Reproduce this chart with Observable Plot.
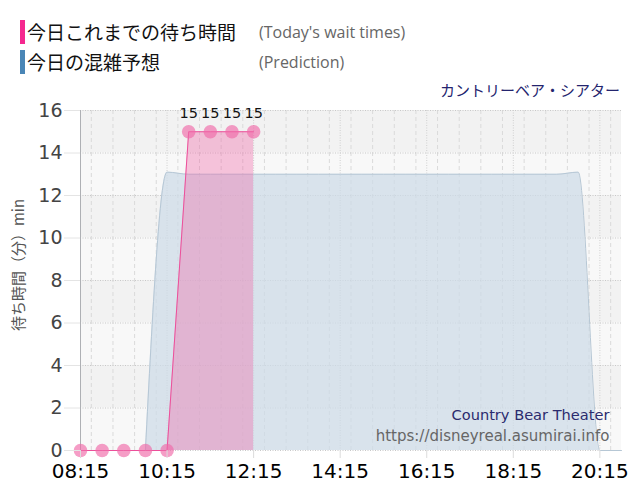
<!DOCTYPE html>
<html><head><meta charset="utf-8">
<script src="https://cdn.jsdelivr.net/npm/d3@7"></script>
<script src="https://cdn.jsdelivr.net/npm/@observablehq/plot@0.6"></script>
<style>
body{margin:0;background:#fff;}
#wrap{position:relative;width:640px;height:500px;overflow:hidden;}
#legend{position:relative;height:100px;width:640px;}
.bar{position:absolute;width:5px;height:24px;}
.jp{position:absolute;font-family:"Noto Sans CJK JP",sans-serif;font-size:19px;color:#111;line-height:24px;white-space:nowrap;}
.en{position:absolute;font-family:"Open Sans",sans-serif;font-size:16px;color:#666;line-height:24px;white-space:nowrap;}
#attr{position:absolute;right:20px;top:80px;font-family:"Noto Sans CJK JP",sans-serif;font-size:15px;color:#24246e;line-height:20px;white-space:nowrap;}
#ylab{position:absolute;left:18px;top:265px;width:0;height:0;}
#ylab span{position:absolute;left:0;top:0;transform:translate(-50%,-50%) rotate(-90deg);font-family:"Noto Sans CJK JP",sans-serif;font-size:15px;color:#555;white-space:nowrap;line-height:18px;}
#chart svg{display:block;}
</style></head><body>
<div id="wrap">
  <div id="legend">
    <div class="bar" style="left:20px;top:20px;background:#f5288f"></div>
    <div class="jp" style="left:27px;top:20px">今日これまでの待ち時間</div>
    <div class="en" style="left:259px;top:20px">(Today's wait times)</div>
    <div class="bar" style="left:20px;top:50px;background:#4a86b6"></div>
    <div class="jp" style="left:27px;top:50px">今日の混雑予想</div>
    <div class="en" style="left:259px;top:50px">(Prediction)</div>
    <div id="attr">カントリーベア・シアター</div>
  </div>
  <div id="chart"></div>
  <div id="ylab"><span id="ylabtext"></span></div>
</div>
<script>
const waitTimes = ["08:15","08:45","09:15","09:45","10:15","10:45","11:15","11:45","12:15"];
const waitValues = [0,0,0,0,0,15,15,15,15];
const predTimes = ["09:45","10:15","10:45","11:15","11:45","12:15","12:45","13:15","13:45","14:15","14:45","15:15","15:45","16:15","16:45","17:15","17:45","18:15","18:45","19:15","19:45","20:15","20:45"];
const predValues = [0,13.1,13,13,13,13,13,13,13,13,13,13,13,13,13,13,13,13,13,13,13.1,0,0];
const xTickLabels = ["08:15","10:15","12:15","14:15","16:15","18:15","20:15"];
const xDomainLabels = ["08:15","20:45"];
const yTicks = [0,2,4,6,8,10,12,14,16];
const yLabel = "待ち時間（分）min";
const nameEn = "Country Bear Theater";
const siteUrl = "https://disneyreal.asumirai.info";

document.getElementById("ylabtext").textContent = yLabel;

const t = s => { const [h,m] = s.split(":").map(Number); return new Date(Date.UTC(2024,0,1,h,m)); };
const wait = waitTimes.map((s,i) => ({t: t(s), v: waitValues[i]}));
const pred = predTimes.map((s,i) => ({t: t(s), v: predValues[i]}));
const x0 = t(xDomainLabels[0]), x1 = t(xDomainLabels[1]);
const minorTimes = d3.utcMinute.every(30).range(x0, new Date(+x1 + 1));
const majorTimes = xTickLabels.map(t);
const bands = d3.range(0, yTicks.length - 1).map(i => ({lo: yTicks[i], hi: yTicks[i+1], dark: i % 2 === 1}));

const chart = Plot.plot({
  width: 640, height: 400,
  marginTop: 10, marginBottom: 50, marginLeft: 80, marginRight: 19,
  x: {type: "utc", domain: [x0, x1]},
  y: {domain: [0, 16]},
  style: {fontFamily: "DejaVu Sans", background: "transparent", overflow: "visible"},
  marks: [
    Plot.rect(bands.filter(d => d.dark), {x1: () => x0, x2: () => x1, y1: "lo", y2: "hi", fill: "#f2f2f2"}),
    Plot.rect(bands.filter(d => !d.dark), {x1: () => x0, x2: () => x1, y1: "lo", y2: "hi", fill: "#f8f8f8"}),
    Plot.ruleX(minorTimes, {stroke: "#dadada", strokeDasharray: "4,3"}),
    Plot.ruleX(majorTimes, {stroke: "#cfcfcf", strokeDasharray: "1,1.5"}),
    Plot.ruleY(yTicks, {x1: x0, x2: x1, stroke: "#c8c8c8", strokeDasharray: "1,1.5"}),
    Plot.ruleX([x0], {stroke: "#aeb0b4"}),
    Plot.areaY(pred, {x: "t", y: "v", fill: "#cddbe8", fillOpacity: 0.72, curve: "monotone-x"}),
    Plot.lineY(pred, {x: "t", y: "v", stroke: "#b6c7d5", strokeWidth: 1, curve: "monotone-x"}),
    Plot.areaY(wait, {x: "t", y: "v", fill: "#f06aa9", fillOpacity: 0.38}),
    Plot.lineY(wait, {x: "t", y: "v", stroke: "#ec4f9a", strokeWidth: 1}),
    Plot.dot(wait, {x: "t", y: "v", r: 6.8, fill: "#f06aa9", fillOpacity: 0.66, stroke: "none"}),
    Plot.text(wait, {filter: d => d.v > 0, x: "t", y: "v", text: d => String(d.v), dy: -18, fontSize: 14.5, fill: "#111"}),
    Plot.axisY(yTicks, {tickSize: 16, tickPadding: 2, stroke: "#e4e4e4", fill: "#444", fontSize: 19, label: null}),
    Plot.axisX(majorTimes, {tickSize: 8, tickPadding: 5, stroke: "#dcdcdc", fill: "#000", fontSize: 20, tickFormat: d3.utcFormat("%H:%M"), label: null}),
    Plot.text([nameEn], {frameAnchor: "bottom-right", dx: -12, dy: -35, lineAnchor: "middle", textAnchor: "end", fontSize: 14.6, fill: "#2b2b6e"}),
    Plot.text([siteUrl], {frameAnchor: "bottom-right", dx: -12, dy: -14, lineAnchor: "middle", textAnchor: "end", fontSize: 15, fill: "#666"})
  ]
});
document.getElementById("chart").appendChild(chart);
</script>
</body></html>
